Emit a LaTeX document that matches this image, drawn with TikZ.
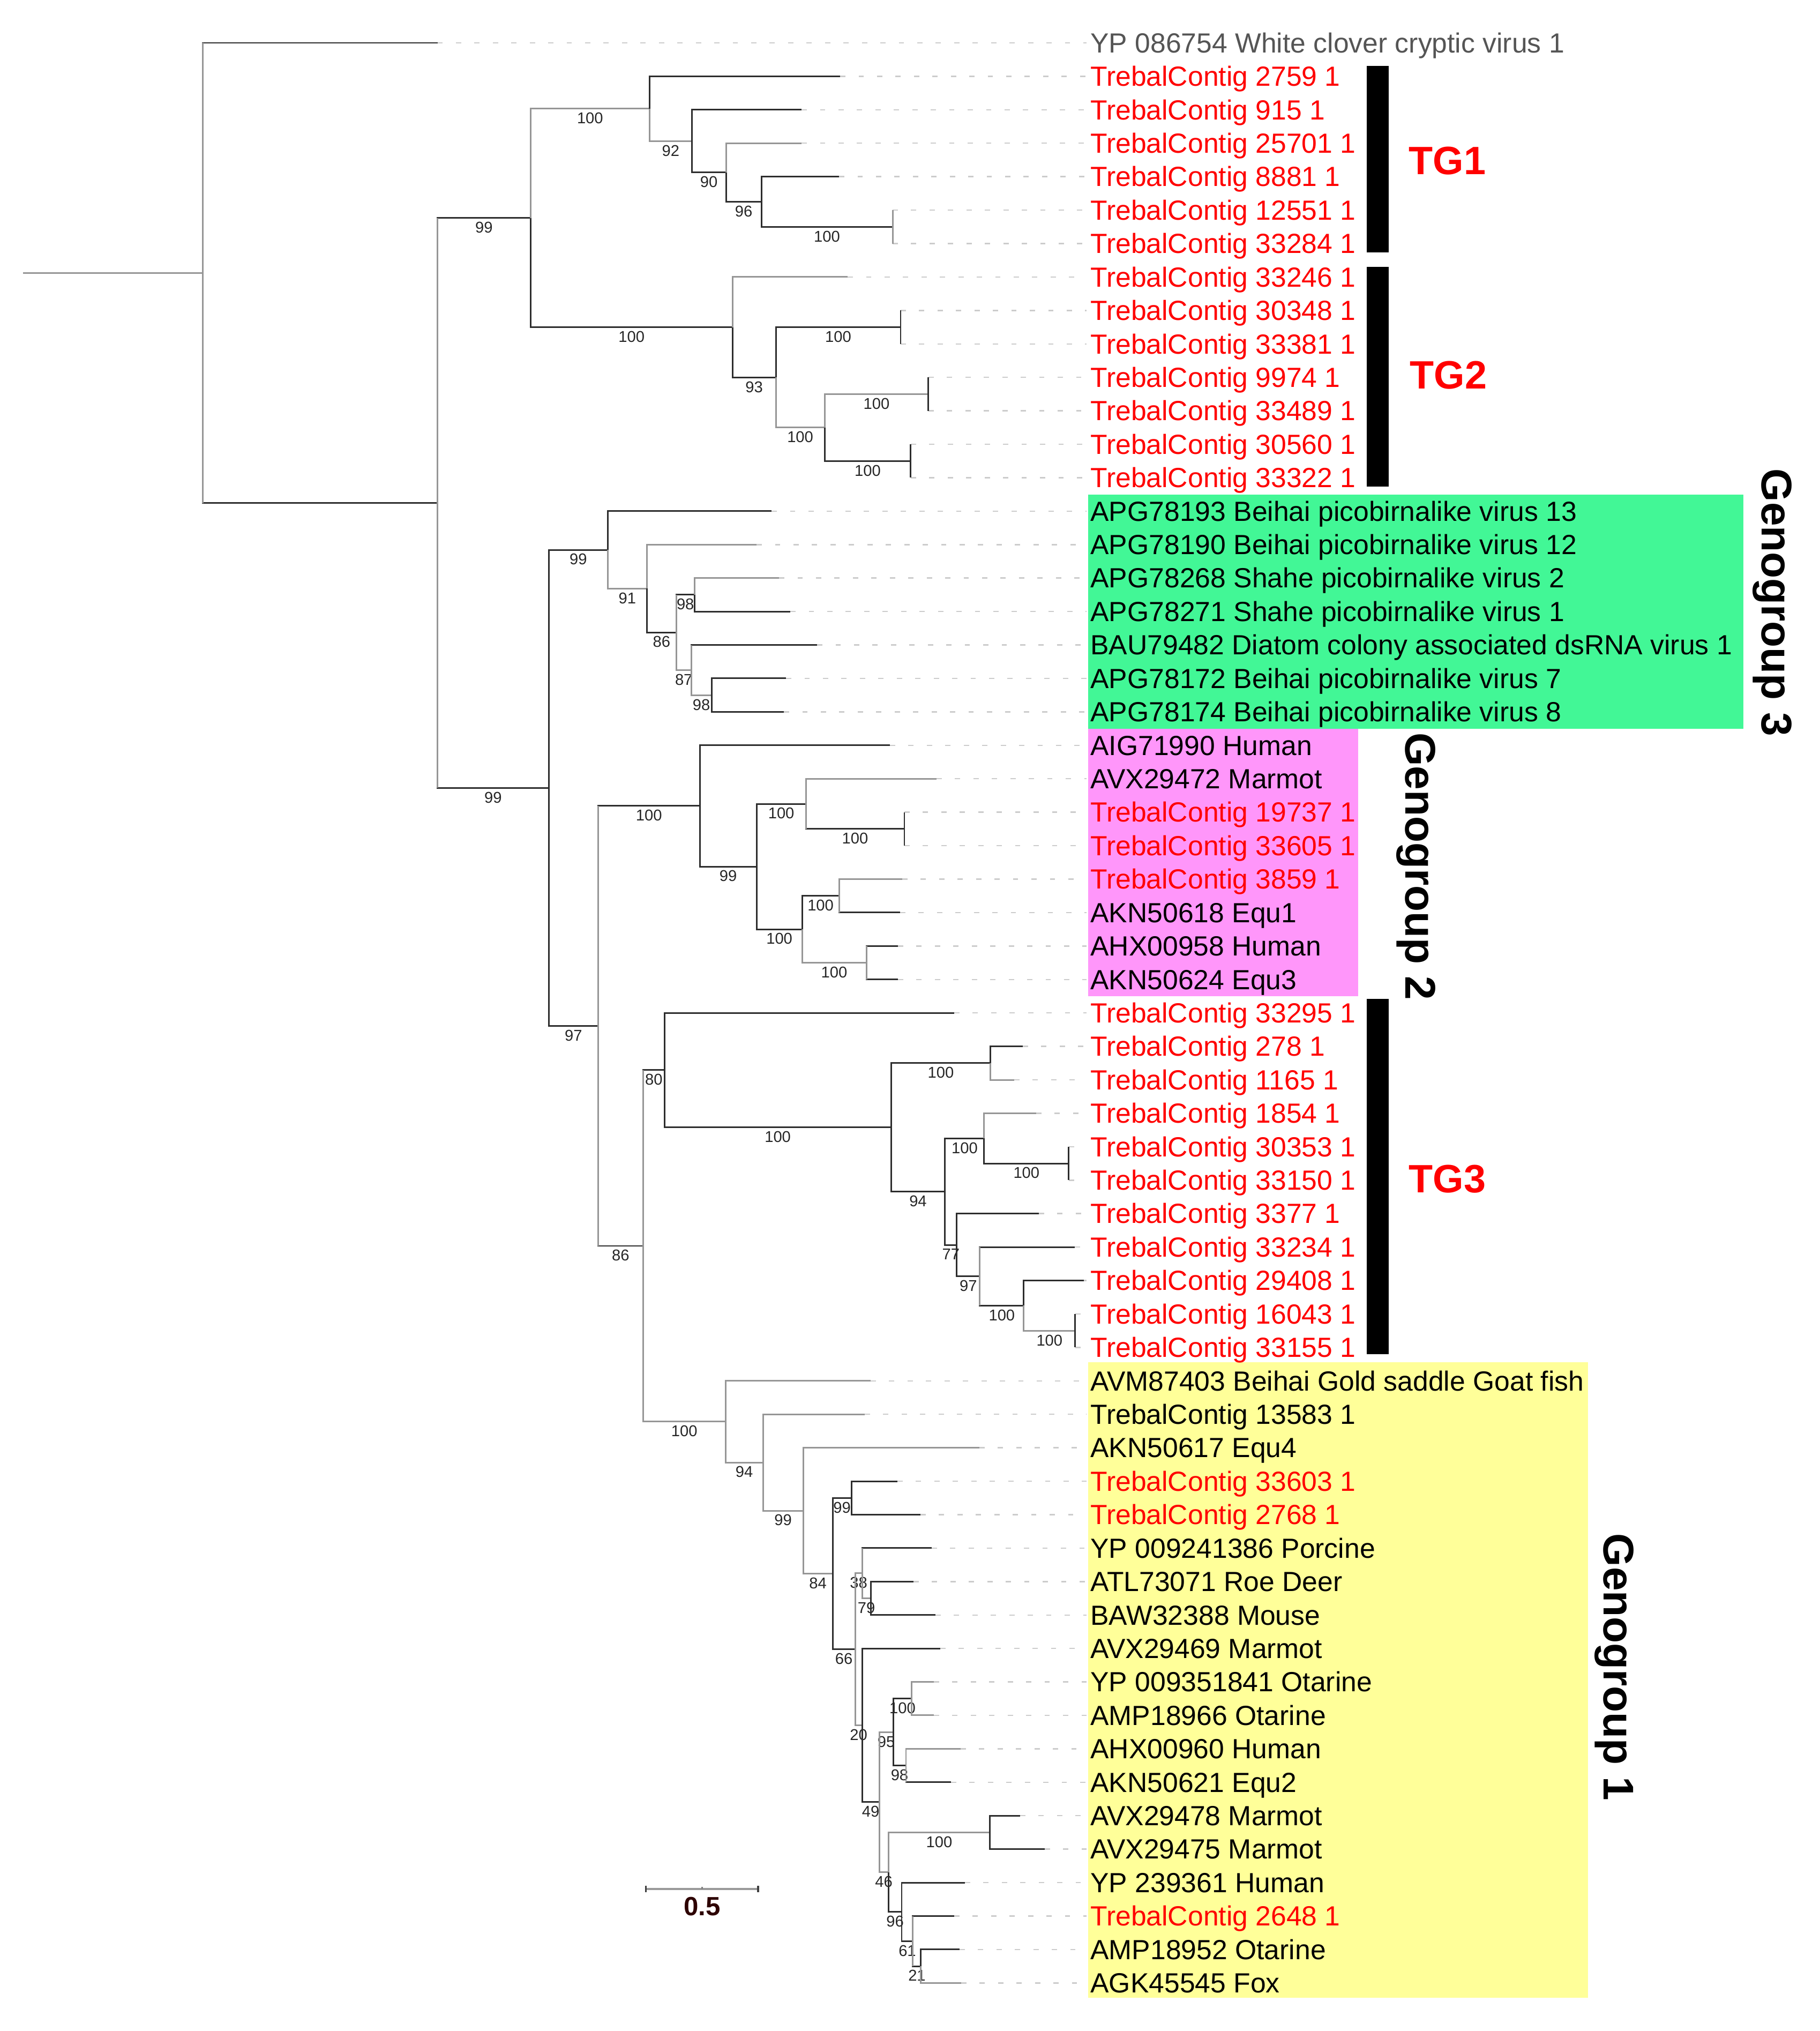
\documentclass[tikz,border=0pt]{standalone}
\usepackage{fontspec}
\setmainfont{Liberation Sans}
\usetikzlibrary{calc}

\definecolor{cladered}{RGB}{255,0,0}
\definecolor{outgrey}{RGB}{85,85,85}
\definecolor{brdark}{RGB}{45,45,45}
\definecolor{brlight}{RGB}{150,150,150}
\definecolor{geno3}{RGB}{66,247,150}
\definecolor{geno2}{RGB}{255,150,250}
\definecolor{geno1}{RGB}{255,255,153}
\definecolor{scalebrown}{RGB}{45,0,0}

\newcommand\leaffont{\fontsize{14.7}{17}\selectfont}
\newcommand\bsfont{\fontsize{8.3}{10}\selectfont}

\tikzset{
  br/.style={draw=brdark, line width=0.85pt},
  brl/.style={draw=brlight, line width=0.85pt},
  bs/.style={pos=.75, anchor=north, inner sep=0pt, yshift=-1.7pt, font=\bsfont, text=black!85},
  lead/.style={draw=black!20, line width=0.7pt, dash pattern=on 2.8pt off 7pt, shorten >=2pt},
  leaf/.style={anchor=base west, inner sep=0pt, yshift=-5.2pt, font=\leaffont},
  tglab/.style={font=\bfseries\fontsize{21}{24}\selectfont, text=cladered},
  gglab/.style={font=\bfseries\fontsize{22.8}{26}\selectfont, rotate=-90},
}

\begin{document}
\begin{tikzpicture}[x=0.01cm, y=-0.6242cm]
\useasboundingbox (0,-0.2817) rectangle (3399,60.437);

% clade shading
\fill[geno3] (2032,14.5) rectangle (3256,21.5);
\fill[geno2] (2032,21.5) rectangle (2537,29.5);
\fill[geno1] (2032,40.45) rectangle (2966,59.45);

% leaves: row / tip x / colour / name
\foreach \row/\x/\col/\txt in {
  1/817/outgrey/YP 086754 White clover cryptic virus 1,
  2/1569/cladered/TrebalContig 2759 1,
  3/1497/cladered/TrebalContig 915 1,
  4/1497/cladered/TrebalContig 25701 1,
  5/1567/cladered/TrebalContig 8881 1,
  6/1667/cladered/TrebalContig 12551 1,
  7/1667/cladered/TrebalContig 33284 1,
  8/1583/cladered/TrebalContig 33246 1,
  9/1682/cladered/TrebalContig 30348 1,
  10/1682/cladered/TrebalContig 33381 1,
  11/1734/cladered/TrebalContig 9974 1,
  12/1734/cladered/TrebalContig 33489 1,
  13/1701/cladered/TrebalContig 30560 1,
  14/1701/cladered/TrebalContig 33322 1,
  15/1441/black/APG78193 Beihai picobirnalike virus 13,
  16/1413/black/APG78190 Beihai picobirnalike virus 12,
  17/1455/black/APG78268 Shahe picobirnalike virus 2,
  18/1476/black/APG78271 Shahe picobirnalike virus 1,
  19/1526/black/BAU79482 Diatom colony associated dsRNA virus 1,
  20/1468/black/APG78172 Beihai picobirnalike virus 7,
  21/1464/black/APG78174 Beihai picobirnalike virus 8,
  22/1662/black/AIG71990 Human,
  23/1749/black/AVX29472 Marmot,
  24/1689/cladered/TrebalContig 19737 1,
  25/1689/cladered/TrebalContig 33605 1,
  26/1685/cladered/TrebalContig 3859 1,
  27/1681/black/AKN50618 Equ1,
  28/1677/black/AHX00958 Human,
  29/1677/black/AKN50624 Equ3,
  30/1782/cladered/TrebalContig 33295 1,
  31/1910/cladered/TrebalContig 278 1,
  32/1894/cladered/TrebalContig 1165 1,
  33/1935/cladered/TrebalContig 1854 1,
  34/1996/cladered/TrebalContig 30353 1,
  35/1996/cladered/TrebalContig 33150 1,
  36/1940/cladered/TrebalContig 3377 1,
  37/2007/cladered/TrebalContig 33234 1,
  38/2024/cladered/TrebalContig 29408 1,
  39/2008/cladered/TrebalContig 16043 1,
  40/2008/cladered/TrebalContig 33155 1,
  41/1626/black/AVM87403 Beihai Gold saddle Goat fish,
  42/1615/black/TrebalContig 13583 1,
  43/1829/black/AKN50617 Equ4,
  44/1676/cladered/TrebalContig 33603 1,
  45/1719/cladered/TrebalContig 2768 1,
  46/1740/black/YP 009241386 Porcine,
  47/1706/black/ATL73071 Roe Deer,
  48/1747/black/BAW32388 Mouse,
  49/1756/black/AVX29469 Marmot,
  50/1744/black/YP 009351841 Otarine,
  51/1744/black/AMP18966 Otarine,
  52/1794/black/AHX00960 Human,
  53/1776/black/AKN50621 Equ2,
  54/1905/black/AVX29478 Marmot,
  55/1951/black/AVX29475 Marmot,
  56/1802/black/YP 239361 Human,
  57/1782/cladered/TrebalContig 2648 1,
  58/1792/black/AMP18952 Otarine,
  59/1795/black/AGK45545 Fox}{
  \coordinate (t\row) at (\x,\row);
  \node[leaf, text=\col] (l\row) at (2036,\row) {\txt};
  \draw[lead] (t\row) -- (t\row -| l\row.west);
}

% internal nodes
\coordinate (root0) at (43,7.877);
\coordinate (root) at (379,7.877);
\coordinate (nA) at (817,14.754);
\coordinate (nTG) at (991,6.234);
\coordinate (nTG1) at (1213,2.969);
\coordinate (n92) at (1292,3.938);
\coordinate (n90) at (1356,4.875);
\coordinate (n96) at (1422,5.75);
\coordinate (n100a) at (1667,6.5);
\coordinate (nTG2) at (1368,9.5);
\coordinate (n93) at (1449,11);
\coordinate (n100b) at (1682,9.5);
\coordinate (n100c) at (1540,12.5);
\coordinate (n100d) at (1734,11.5);
\coordinate (n100e) at (1701,13.5);
\coordinate (nB) at (1025,23.273);
\coordinate (nG3) at (1135,16.156);
\coordinate (n91) at (1208,17.313);
\coordinate (n86a) at (1263,18.625);
\coordinate (n98a) at (1297,17.5);
\coordinate (n87) at (1291,19.75);
\coordinate (n98b) at (1329,20.5);
\coordinate (nC) at (1117,30.389);
\coordinate (nG2) at (1307,23.813);
\coordinate (n99b) at (1413,25.625);
\coordinate (n100f) at (1505,23.75);
\coordinate (n100g) at (1689,24.5);
\coordinate (n100h) at (1498,27.5);
\coordinate (n100i) at (1567,26.5);
\coordinate (n100j) at (1618,28.5);
\coordinate (nD) at (1201,36.966);
\coordinate (n80) at (1241,31.711);
\coordinate (nTG3) at (1664,33.422);
\coordinate (n100k) at (1850,31.5);
\coordinate (n94) at (1765,35.344);
\coordinate (n100l) at (1838,33.75);
\coordinate (n100m) at (1996,34.5);
\coordinate (n77) at (1787,36.938);
\coordinate (n97) at (1830,37.875);
\coordinate (n100n) at (1912,38.75);
\coordinate (n100o) at (2008,39.5);
\coordinate (nG1) at (1355,42.22);
\coordinate (n94b) at (1425,43.44);
\coordinate (n99c) at (1500,44.881);
\coordinate (n84) at (1555,46.762);
\coordinate (n99d) at (1590,44.5);
\coordinate (n66) at (1597,49.023);
\coordinate (n38) at (1610,46.75);
\coordinate (n79) at (1626,47.5);
\coordinate (n20) at (1610,51.297);
\coordinate (n49) at (1642,53.594);
\coordinate (n95) at (1668,51.5);
\coordinate (n100p) at (1703,50.5);
\coordinate (n98c) at (1692,52.5);
\coordinate (n46) at (1659,55.688);
\coordinate (n100q) at (1849,54.5);
\coordinate (n96b) at (1684,56.875);
\coordinate (n61) at (1705,57.75);
\coordinate (n21) at (1720,58.5);

% root and outgroup
\draw[brl] (root0) -- (root);
\draw[br] (root) |- (t1);
\draw[br] (root) |- (nA);
\draw[br] (nA) |- node[bs]{99} (nTG);
\draw[br] (nA) |- node[bs]{99} (nB);

% TG1
\draw[brl] (nTG) |- node[bs]{100} (nTG1);
\draw[br] (nTG1) |- (t2);
\draw[brl] (nTG1) |- node[bs]{92} (n92);
\draw[br] (n92) |- (t3);
\draw[br] (n92) |- node[bs]{90} (n90);
\draw[brl] (n90) |- (t4);
\draw[br] (n90) |- node[bs]{96} (n96);
\draw[br] (n96) |- (t5);
\draw[br] (n96) |- node[bs]{100} (n100a);
\draw[brl] (n100a) |- (t6);
\draw[brl] (n100a) |- (t7);

% TG2
\draw[br] (nTG) |- node[bs]{100} (nTG2);
\draw[brl] (nTG2) |- (t8);
\draw[br] (nTG2) |- node[bs]{93} (n93);
\draw[br] (n93) |- node[bs]{100} (n100b);
\draw[br] (n100b) |- (t9);
\draw[br] (n100b) |- (t10);
\draw[brl] (n93) |- node[bs]{100} (n100c);
\draw[brl] (n100c) |- node[bs]{100} (n100d);
\draw[br] (n100d) |- (t11);
\draw[br] (n100d) |- (t12);
\draw[br] (n100c) |- node[bs]{100} (n100e);
\draw[br] (n100e) |- (t13);
\draw[br] (n100e) |- (t14);

% Genogroup 3
\draw[br] (nB) |- node[bs]{99} (nG3);
\draw[br] (nG3) |- (t15);
\draw[brl] (nG3) |- node[bs]{91} (n91);
\draw[brl] (n91) |- (t16);
\draw[br] (n91) |- node[bs]{86} (n86a);
\draw[br] (n86a) |- node[bs]{98} (n98a);
\draw[brl] (n98a) |- (t17);
\draw[br] (n98a) |- (t18);
\draw[brl] (n86a) |- node[bs]{87} (n87);
\draw[br] (n87) |- (t19);
\draw[brl] (n87) |- node[bs]{98} (n98b);
\draw[br] (n98b) |- (t20);
\draw[br] (n98b) |- (t21);

% Genogroup 2
\draw[br] (nB) |- node[bs]{97} (nC);
\draw[br] (nC) |- node[bs]{100} (nG2);
\draw[br] (nG2) |- (t22);
\draw[br] (nG2) |- node[bs]{99} (n99b);
\draw[br] (n99b) |- node[bs]{100} (n100f);
\draw[brl] (n100f) |- (t23);
\draw[br] (n100f) |- node[bs]{100} (n100g);
\draw[br] (n100g) |- (t24);
\draw[br] (n100g) |- (t25);
\draw[br] (n99b) |- node[bs]{100} (n100h);
\draw[br] (n100h) |- node[bs]{100} (n100i);
\draw[brl] (n100i) |- (t26);
\draw[br] (n100i) |- (t27);
\draw[brl] (n100h) |- node[bs]{100} (n100j);
\draw[br] (n100j) |- (t28);
\draw[br] (n100j) |- (t29);

% TG3
\draw[br] (nC) |- node[bs]{86} (nD);
\draw[br] (nD) |- node[bs]{80} (n80);
\draw[br] (n80) |- (t30);
\draw[br] (n80) |- node[bs]{100} (nTG3);
\draw[br] (nTG3) |- node[bs]{100} (n100k);
\draw[br] (n100k) |- (t31);
\draw[brl] (n100k) |- (t32);
\draw[br] (nTG3) |- node[bs]{94} (n94);
\draw[br] (n94) |- node[bs]{100} (n100l);
\draw[brl] (n100l) |- (t33);
\draw[br] (n100l) |- node[bs]{100} (n100m);
\draw[br] (n100m) |- (t34);
\draw[br] (n100m) |- (t35);
\draw[br] (n94) |- node[bs]{77} (n77);
\draw[br] (n77) |- (t36);
\draw[br] (n77) |- node[bs]{97} (n97);
\draw[br] (n97) |- (t37);
\draw[br] (n97) |- node[bs]{100} (n100n);
\draw[br] (n100n) |- (t38);
\draw[brl] (n100n) |- node[bs]{100} (n100o);
\draw[br] (n100o) |- (t39);
\draw[br] (n100o) |- (t40);

% Genogroup 1
\draw[brl] (nD) |- node[bs]{100} (nG1);
\draw[brl] (nG1) |- (t41);
\draw[brl] (nG1) |- node[bs]{94} (n94b);
\draw[brl] (n94b) |- (t42);
\draw[brl] (n94b) |- node[bs]{99} (n99c);
\draw[brl] (n99c) |- (t43);
\draw[brl] (n99c) |- node[bs]{84} (n84);
\draw[br] (n84) |- node[bs]{99} (n99d);
\draw[br] (n99d) |- (t44);
\draw[br] (n99d) |- (t45);
\draw[br] (n84) |- node[bs]{66} (n66);
\draw[brl] (n66) |- node[bs]{38} (n38);
\draw[br] (n38) |- (t46);
\draw[brl] (n38) |- node[bs]{79} (n79);
\draw[br] (n79) |- (t47);
\draw[br] (n79) |- (t48);
\draw[brl] (n66) |- node[bs]{20} (n20);
\draw[br] (n20) |- (t49);
\draw[br] (n20) |- node[bs]{49} (n49);
\draw[brl] (n49) |- node[bs]{95} (n95);
\draw[br] (n95) |- node[bs]{100} (n100p);
\draw[brl] (n100p) |- (t50);
\draw[brl] (n100p) |- (t51);
\draw[br] (n95) |- node[bs]{98} (n98c);
\draw[brl] (n98c) |- (t52);
\draw[br] (n98c) |- (t53);
\draw[brl] (n49) |- node[bs]{46} (n46);
\draw[brl] (n46) |- node[bs]{100} (n100q);
\draw[br] (n100q) |- (t54);
\draw[br] (n100q) |- (t55);
\draw[br] (n46) |- node[bs]{96} (n96b);
\draw[br] (n96b) |- (t56);
\draw[br] (n96b) |- node[bs]{61} (n61);
\draw[br] (n61) |- (t57);
\draw[br] (n61) |- node[bs]{21} (n21);
\draw[br] (n21) |- (t58);
\draw[brl] (n21) |- (t59);

% lighter verticals
\foreach \p/\a/\b in {root/t1/nA, nA/nTG/nB, n100a/t6/t7, nC/nG2/nD, nD/n80/nG1,
    n86a/n98a/n87, n87/t19/n98b, n100f/t23/n100g, n100i/t26/t27, n100j/t28/t29,
    n97/t37/n100n, n94b/t42/n99c, n99c/t43/n84, n66/n38/n20, n38/t46/n79,
    n49/n95/n46, n98c/t52/t53, n61/t57/n21}
  \draw[brl] (\p |- \a) -- (\p |- \b);

% clade bars and names
\fill[black] (2553,1.69) rectangle (2594,7.26);
\fill[black] (2553,7.70) rectangle (2594,14.27);
\fill[black] (2553,29.58) rectangle (2594,40.2);
\node[tglab] (tg1) at (2703,4.52) {TG1};
\node[tglab] (tg2) at (2705,10.93) {TG2};
\node[tglab] (tg3) at (2703,34.96) {TG3};
\node[gglab] (gg3) at (3310,17.73) {Genogroup 3};
\node[gglab] (gg2) at (2645,25.62) {Genogroup 2};
\node[gglab] (gg1) at (3015,49.56) {Genogroup 1};

% scale bar
\coordinate (sb0) at (1206,56.19);
\coordinate (sb1) at (1416,56.19);
\draw[black!40, line width=1pt] (sb0) -- (sb1);
\draw[black!75, line width=1pt] (sb0) ++(0,-0.1) -- ++(0,0.2);
\draw[black!75, line width=1pt] (sb1) ++(0,-0.1) -- ++(0,0.2);
\draw[black!50, line width=0.8pt] ($(sb0)!.5!(sb1)$) -- ++(0,-0.07);
\node[font=\bfseries\fontsize{14}{16}\selectfont, text=scalebrown] (sblab) at (1311,56.72) {0.5};
\end{tikzpicture}
\end{document}
